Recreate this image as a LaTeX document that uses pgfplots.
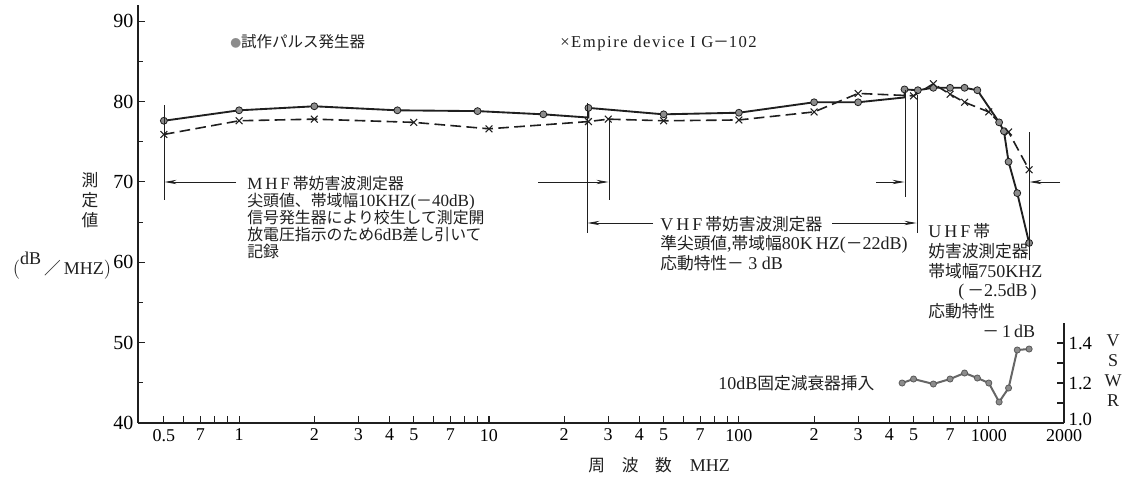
\documentclass[border=0pt]{standalone}
\usepackage{pgfplots}
\pgfplotsset{compat=1.18}
\usepackage{fontspec}
\setmainfont{Liberation Serif}
\newfontfamily\jp[Scale=0.93]{Noto Sans CJK JP}
\usetikzlibrary{arrows.meta}
\definecolor{dotfill}{gray}{0.55}
\definecolor{ink}{gray}{0.12}
\begin{document}
\begin{tikzpicture}
\useasboundingbox (-103.5pt,-39.75pt) rectangle (744.75pt,317.25pt);
\begin{axis}[
  scale only axis, width=694.5pt, height=313.5pt,
  xmode=log, xmin=0.394, xmax=2000, ymin=40, ymax=92,
  axis lines=left, axis line style={-, line width=1.1pt, ink},
  xtick={0.5,0.6,0.7,0.8,0.9,1,2,3,4,5,6,7,8,9,10,20,30,40,50,60,70,80,90,100,200,300,400,500,600,700,800,900,1000,2000},
  xticklabels={0.5,,7,,,1,2,3,4,5,,7,,,10,2,3,4,5,,7,,,100,2,3,4,5,,7,,,1000,2000},
  ytick={40,50,60,70,80,90}, minor ytick={45,55,65,75,85},
  tick align=inside, major tick length=5pt, minor tick length=4pt,
  tick style={line width=0.8pt, ink},
  /pgf/number format/assume math mode=true,
  xticklabel style={font=\fontsize{13.5}{13.5}\selectfont, yshift=-1pt},
  yticklabel style={font=\fontsize{15}{15}\selectfont},
  clip=false,
]
\addplot[ink, line width=1.4pt, mark=*, mark size=2.6pt,
  mark options={fill=dotfill, draw=ink, line width=0.6pt},
  mark indices={1,2,3,4,5,6,8,9,10,11,12,14,15,16,17,18,19,20,21,22,23,24}]
coordinates {
(0.5,77.6) (1,78.9) (2,79.4) (4.3,78.9) (9,78.8) (16.5,78.4) (25,78.0)
(25,79.2) (50,78.4) (100,78.6) (200,79.9) (300,79.9) (460,80.5)
(460,81.5) (520,81.4) (600,81.7) (700,81.7) (800,81.7) (900,81.4)
(1100,77.4) (1150,76.3) (1200,72.5) (1300,68.6) (1450,62.4)
};
\addplot[ink, line width=1.2pt, dash pattern=on 8pt off 4pt, mark=x, mark size=3.6pt,
  mark options={solid, line width=0.8pt}]
coordinates {
(0.5,75.9) (1,77.6) (2,77.8) (5,77.4) (10,76.6) (25,77.5) (30,77.8)
(50,77.6) (100,77.7) (200,78.7) (300,81.0) (500,80.7) (600,82.2)
(700,80.9) (800,79.9) (1000,78.7) (1200,76.2) (1450,71.5)
};
\end{axis}
\begin{axis}[
  scale only axis, width=694.5pt, height=75pt,
  xmode=log, xmin=0.394, xmax=2000, ymin=1.0, ymax=1.5,
  axis y line*=right, axis x line=none,
  axis line style={-, line width=1.1pt, ink},
  ytick={1.0,1.1,1.2,1.3,1.4}, yticklabels={\raisebox{5pt}{1.0},,1.2,,1.4},
  tick align=inside, major tick length=5pt,
  tick style={line width=0.8pt, ink},
  yticklabel style={font=\fontsize{14}{14}\selectfont},
  clip=false,
]
\addplot[black!60, line width=1.5pt, mark=*, mark size=2.3pt,
  mark options={fill=dotfill, draw=black!65, line width=0.6pt}]
coordinates {
(450,1.20) (500,1.22) (600,1.195) (700,1.22) (800,1.25) (900,1.225)
(1000,1.20) (1100,1.105) (1200,1.175) (1300,1.365) (1450,1.37)
};
\end{axis}
\begin{scope}[shift={(-103.5pt,317.25pt)},x=0.75pt,y=-0.75pt,
  font=\fontsize{13.5}{12.6}\selectfont,
  ann/.style={line width=0.6pt, ink},
  arr/.style={line width=0.6pt, ink, -{Stealth[length=9pt,width=3.2pt]}},
  lab/.style={anchor=base west, inner sep=0pt, text=ink, text height=9.5pt, text depth=2pt},
  mhf/.style={lab, font=\fontsize{12.8}{12.8}\selectfont}]
% MHF band
\draw[ann] (164,105) -- (164,200);
\draw[ann] (609,118) -- (609,200);
\draw[arr] (236,182) -- (164.5,182);
\draw[arr] (538,182) -- (608.5,182);
% VHF band
\draw[ann] (587,103) -- (587,233);
\draw[ann] (917,95) -- (917,233);
\draw[arr] (653,223) -- (587.5,223);
\draw[arr] (832,223) -- (916.5,223);
% UHF band
\draw[ann] (905,90) -- (905,197);
\draw[ann] (1029,132) -- (1029,260);
\draw[arr] (876,182) -- (904.5,182);
\draw[arr] (1060,182) -- (1029.5,182);
% texts
\node[mhf] at (247,189) {M\,H\,F\,{\jp 帯妨害波測定器}};
\node[mhf] at (247,206.5) {{\jp 尖頭値、帯域幅}10KHZ({\jp －}40dB)};
\node[mhf] at (247,223.5) {{\jp 信号発生器により校生して測定開}};
\node[mhf] at (247,240.5) {{\jp 放電圧指示のため}6dB{\jp 差し引いて}};
\node[mhf] at (247,257.5) {{\jp 記録}};
\node[lab] at (660,230) {V\,H\,F\,{\jp 帯妨害波測定器}};
\node[lab] at (660,249) {{\jp 準尖頭値},{\jp 帯域幅}80K\,HZ({\jp －}22dB)};
\node[lab] at (660,269) {{\jp 応動特性－} 3 dB};
\node[lab] at (928,237) {U\,H\,F\,{\jp 帯}};
\node[lab] at (928,257) {{\jp 妨害波測定器}};
\node[lab] at (928,277) {{\jp 帯域幅}750KHZ};
\node[lab] at (958,296) {(\,{\jp －}2.5dB\,)};
\node[lab] at (928,317) {{\jp 応動特性}};
\node[lab] at (982,337) {{\jp －}\,1\,dB};
\node[lab] at (718,389) {10dB{\jp 固定減衰器挿入}};
% legend
\node[lab, font=\fontsize{12.5}{12.5}\selectfont] at (230,47) {{\color{dotfill}\jp\scalebox{0.7}{●}}{\jp 試作パルス発生器}};
\node[lab, font=\fontsize{12.5}{12.5}\selectfont] at (560,47) {\addfontfeatures{LetterSpace=9}×Empire device I G{\jp －}102};
% axis titles
\node[lab] at (588,471) {{\jp 周\quad 波\quad 数}\quad MHZ};
\node[text=ink] at (90,180) {\jp 測};
\node[text=ink] at (90,200) {\jp 定};
\node[text=ink] at (90,220) {\jp 値};
\node[text=ink, inner sep=0pt] at (62,266) {$\Bigl($\raisebox{1.2ex}{dB}\,{\jp ／}\,MHZ$\Bigr)$};
\node[text=ink] at (1113,341) {V};
\node[text=ink] at (1113,361) {S};
\node[text=ink] at (1113,381) {W};
\node[text=ink] at (1113,401) {R};
\end{scope}
\end{tikzpicture}
\end{document}
